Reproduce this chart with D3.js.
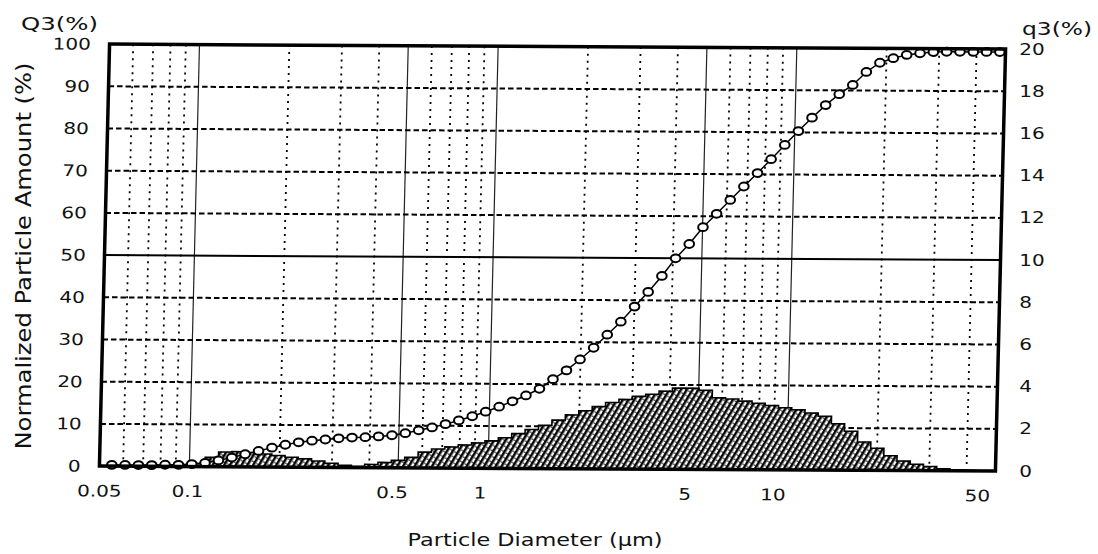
<!DOCTYPE html>
<html>
<head>
<meta charset="utf-8">
<script src="https://cdn.jsdelivr.net/npm/d3@7"></script>
<style>
  html, body { margin: 0; padding: 0; background: #fff; }
  svg { display: block; }
  text { font-family: "DejaVu Sans", "Liberation Sans", sans-serif; fill: #111; }
</style>
</head>
<body>
<svg id="chart" width="1098" height="554"></svg>
<script>
// Size classes (µm): lower edge of each class
const diameters = [
  0.0550, 0.0609, 0.0675, 0.0748, 0.0829, 0.0919, 0.1018, 0.1128, 0.1250, 0.1385,
  0.1534, 0.1700, 0.1884, 0.2087, 0.2312, 0.2562, 0.2839, 0.3145, 0.3485, 0.3861,
  0.4278, 0.4740, 0.5252, 0.5819, 0.6448, 0.7144, 0.7916, 0.8771, 0.9718, 1.077,
  1.193, 1.322, 1.465, 1.623, 1.798, 1.992, 2.208, 2.446, 2.710, 3.003,
  3.327, 3.687, 4.085, 4.526, 5.015, 5.557, 6.157, 6.822, 7.559, 8.375,
  9.280, 10.28, 11.39, 12.62, 13.99, 15.50, 17.17, 19.03, 21.08, 23.36,
  25.88, 28.68, 31.78, 35.21, 39.01, 43.22, 47.89
];

// Cumulative undersize Q3 (%) at each diameter
const cumulative = [
  0.3, 0.3, 0.3, 0.3, 0.4, 0.4, 0.6, 0.9, 1.5, 2.2,
  3.0, 3.8, 4.6, 5.3, 5.9, 6.3, 6.6, 6.9, 7.1, 7.2,
  7.4, 7.7, 8.2, 8.9, 9.6, 10.4, 11.3, 12.3, 13.4, 14.6,
  15.9, 17.3, 18.9, 21.2, 23.3, 25.9, 28.7, 31.8, 34.9, 38.5,
  42.0, 45.8, 50.0, 53.4, 57.4, 60.6, 63.9, 67.1, 70.3, 73.6,
  77.0, 80.3, 83.5, 86.5, 89.1, 91.3, 94.4, 96.6, 97.7, 98.5,
  98.9, 99.2, 99.3, 99.3, 99.3, 99.3, 99.3
];

// Frequency q3 (%) of the class between consecutive diameters
const frequency = [
  0, 0, 0, 0, 0, 0, 0.15, 0.45, 0.70, 0.72,
  0.68, 0.62, 0.55, 0.47, 0.40, 0.30, 0.20, 0.10, 0.06, 0.15,
  0.25, 0.35, 0.50, 0.75, 0.90, 1.00, 1.10, 1.20, 1.30, 1.45,
  1.65, 1.85, 2.05, 2.30, 2.55, 2.75, 2.95, 3.15, 3.30, 3.45,
  3.55, 3.70, 3.85, 3.85, 3.75, 3.40, 3.35, 3.25, 3.15, 3.05,
  2.95, 2.85, 2.70, 2.55, 2.20, 1.85, 1.35, 1.05, 0.70, 0.45,
  0.30, 0.20, 0.10, 0.05, 0.02, 0
];

const leftTicks = [0, 10, 20, 30, 40, 50, 60, 70, 80, 90, 100];
const rightTicks = [0, 2, 4, 6, 8, 10, 12, 14, 16, 18, 20];
const xTickValues = [0.05, 0.1, 0.5, 1, 5, 10, 50];
const xTickLabels = ["0.05", "0.1", "0.5", "1", "5", "10", "50"];
const majorGrid = [0.1, 0.5, 1, 5, 10];
const minorGrid = [0.06, 0.07, 0.08, 0.09, 0.2, 0.3, 0.4, 0.6, 0.7, 0.8, 0.9,
                   2, 3, 4, 6, 7, 8, 9, 20, 30, 40];
const dashedGrid = [10, 20, 30, 40, 60, 70, 80, 90];

const plot = { left: 104, right: 1000, top: 46, bottom: 468 };
const svg = d3.select("#chart");

const x = d3.scaleLog().domain([0.05, 50]).range([plot.left, plot.right]);
const yCum = d3.scaleLinear().domain([0, 100]).range([plot.bottom, plot.top]);
const yFreq = d3.scaleLinear().domain([0, 20]).range([plot.bottom, plot.top]);
// tick labels sit on a slightly tighter run than the grid
const xLabel = x.copy().range([plot.left, plot.right - 18]);

// hatch fill for the frequency histogram
const defs = svg.append("defs");
const pat = defs.append("pattern")
  .attr("id", "hatch")
  .attr("patternUnits", "userSpaceOnUse")
  .attr("width", 5).attr("height", 5)
  .attr("patternTransform", "rotate(30)");
pat.append("rect").attr("width", 5).attr("height", 5).attr("fill", "#fff");
pat.append("line").attr("x1", 1.3).attr("y1", 0).attr("x2", 1.3).attr("y2", 5)
  .attr("stroke", "#000").attr("stroke-width", 2.5);
pat.append("rect").attr("x", 3.4).attr("y", 1.2).attr("width", 1.3).attr("height", 1.3).attr("fill", "#000");

// the printed sheet sits slightly askew
const sheet = svg.append("g")
  .attr("transform", "matrix(1,0.0056,-0.024,1,6.67,-2.49)");

// grid
const grid = sheet.append("g");
grid.selectAll("line.minor").data(minorGrid).join("line")
  .attr("class", "minor")
  .attr("x1", d => x(d)).attr("x2", d => x(d))
  .attr("y1", plot.top).attr("y2", plot.bottom)
  .attr("stroke", "#000").attr("stroke-width", 1.8).attr("stroke-dasharray", "2,5");
grid.selectAll("line.major").data(majorGrid).join("line")
  .attr("class", "major")
  .attr("x1", d => x(d)).attr("x2", d => x(d))
  .attr("y1", plot.top).attr("y2", plot.bottom)
  .attr("stroke", "#222").attr("stroke-width", 1.2);
grid.selectAll("line.dash").data(dashedGrid).join("line")
  .attr("class", "dash")
  .attr("x1", plot.left).attr("x2", plot.right)
  .attr("y1", d => yCum(d)).attr("y2", d => yCum(d))
  .attr("stroke", "#000").attr("stroke-width", 2).attr("stroke-dasharray", "5.5,3");
grid.append("line")
  .attr("x1", plot.left).attr("x2", plot.right)
  .attr("y1", yCum(50)).attr("y2", yCum(50))
  .attr("stroke", "#000").attr("stroke-width", 2);

// frequency histogram
const bars = diameters.map((d, i) => ({ d, v: i < frequency.length ? frequency[i] : 0 }));
sheet.append("path")
  .datum(bars)
  .attr("fill", "url(#hatch)")
  .attr("d", d3.area().x(p => x(p.d)).y0(yFreq(0)).y1(p => yFreq(p.v)).curve(d3.curveStepAfter));
sheet.append("path")
  .datum(bars)
  .attr("fill", "none").attr("stroke", "#000").attr("stroke-width", 1.6)
  .attr("d", d3.line().x(p => x(p.d)).y(p => yFreq(p.v)).curve(d3.curveStepAfter));

// cumulative curve
const pts = diameters.map((d, i) => ({ d, v: cumulative[i] }));
sheet.append("path")
  .datum(pts)
  .attr("fill", "none").attr("stroke", "#000").attr("stroke-width", 1.5)
  .attr("d", d3.line().x(p => x(p.d)).y(p => yCum(p.v)));
sheet.append("g").selectAll("ellipse").data(pts).join("ellipse")
  .attr("cx", p => x(p.d)).attr("cy", p => yCum(p.v))
  .attr("rx", 4.8).attr("ry", 3.9)
  .attr("fill", "#fff").attr("stroke", "#000").attr("stroke-width", 2);

// frame
sheet.append("rect")
  .attr("x", plot.left).attr("y", plot.top)
  .attr("width", plot.right - plot.left).attr("height", plot.bottom - plot.top)
  .attr("fill", "none").attr("stroke", "#000").attr("stroke-width", 3.5);

// axes
function styleAxis(g) {
  g.select(".domain").remove();
  g.attr("font-size", null).attr("font-family", null);
  g.selectAll("text")
    .style("font-size", "16px")
    .attr("fill", "#111")
    .attr("transform", "scale(1.25,1)");
}
sheet.append("g")
  .attr("transform", `translate(${plot.left},0)`)
  .call(d3.axisLeft(yCum).tickValues(leftTicks).tickSize(0).tickPadding(15).tickFormat(d3.format("d")))
  .call(styleAxis);
sheet.append("g")
  .attr("transform", `translate(0,${plot.bottom})`)
  .call(d3.axisBottom(xLabel).tickValues(xTickValues).tickSize(0).tickPadding(19)
    .tickFormat((d, i) => xTickLabels[i]))
  .call(styleAxis);
svg.append("g")
  .attr("transform", `translate(${plot.right},3)`)
  .call(d3.axisRight(yFreq).tickValues(rightTicks).tickSize(0).tickPadding(15.5).tickFormat(d3.format("d")))
  .call(styleAxis);

// titles
svg.append("text")
  .attr("x", 21).attr("y", 30)
  .attr("font-size", 17).attr("textLength", 77).attr("lengthAdjust", "spacingAndGlyphs")
  .text("Q3(%)");
svg.append("text")
  .attr("x", 1022).attr("y", 35)
  .attr("font-size", 17).attr("textLength", 70).attr("lengthAdjust", "spacingAndGlyphs")
  .text("q3(%)");
svg.append("text")
  .attr("transform", "translate(31,256) rotate(-90)")
  .attr("text-anchor", "middle")
  .attr("font-size", 21).attr("textLength", 387).attr("lengthAdjust", "spacingAndGlyphs")
  .text("Normalized Particle Amount (%)");
svg.append("text")
  .attr("x", 535).attr("y", 546)
  .attr("text-anchor", "middle")
  .attr("font-size", 17).attr("textLength", 255).attr("lengthAdjust", "spacingAndGlyphs")
  .text("Particle Diameter (µm)");
</script>
</body>
</html>
